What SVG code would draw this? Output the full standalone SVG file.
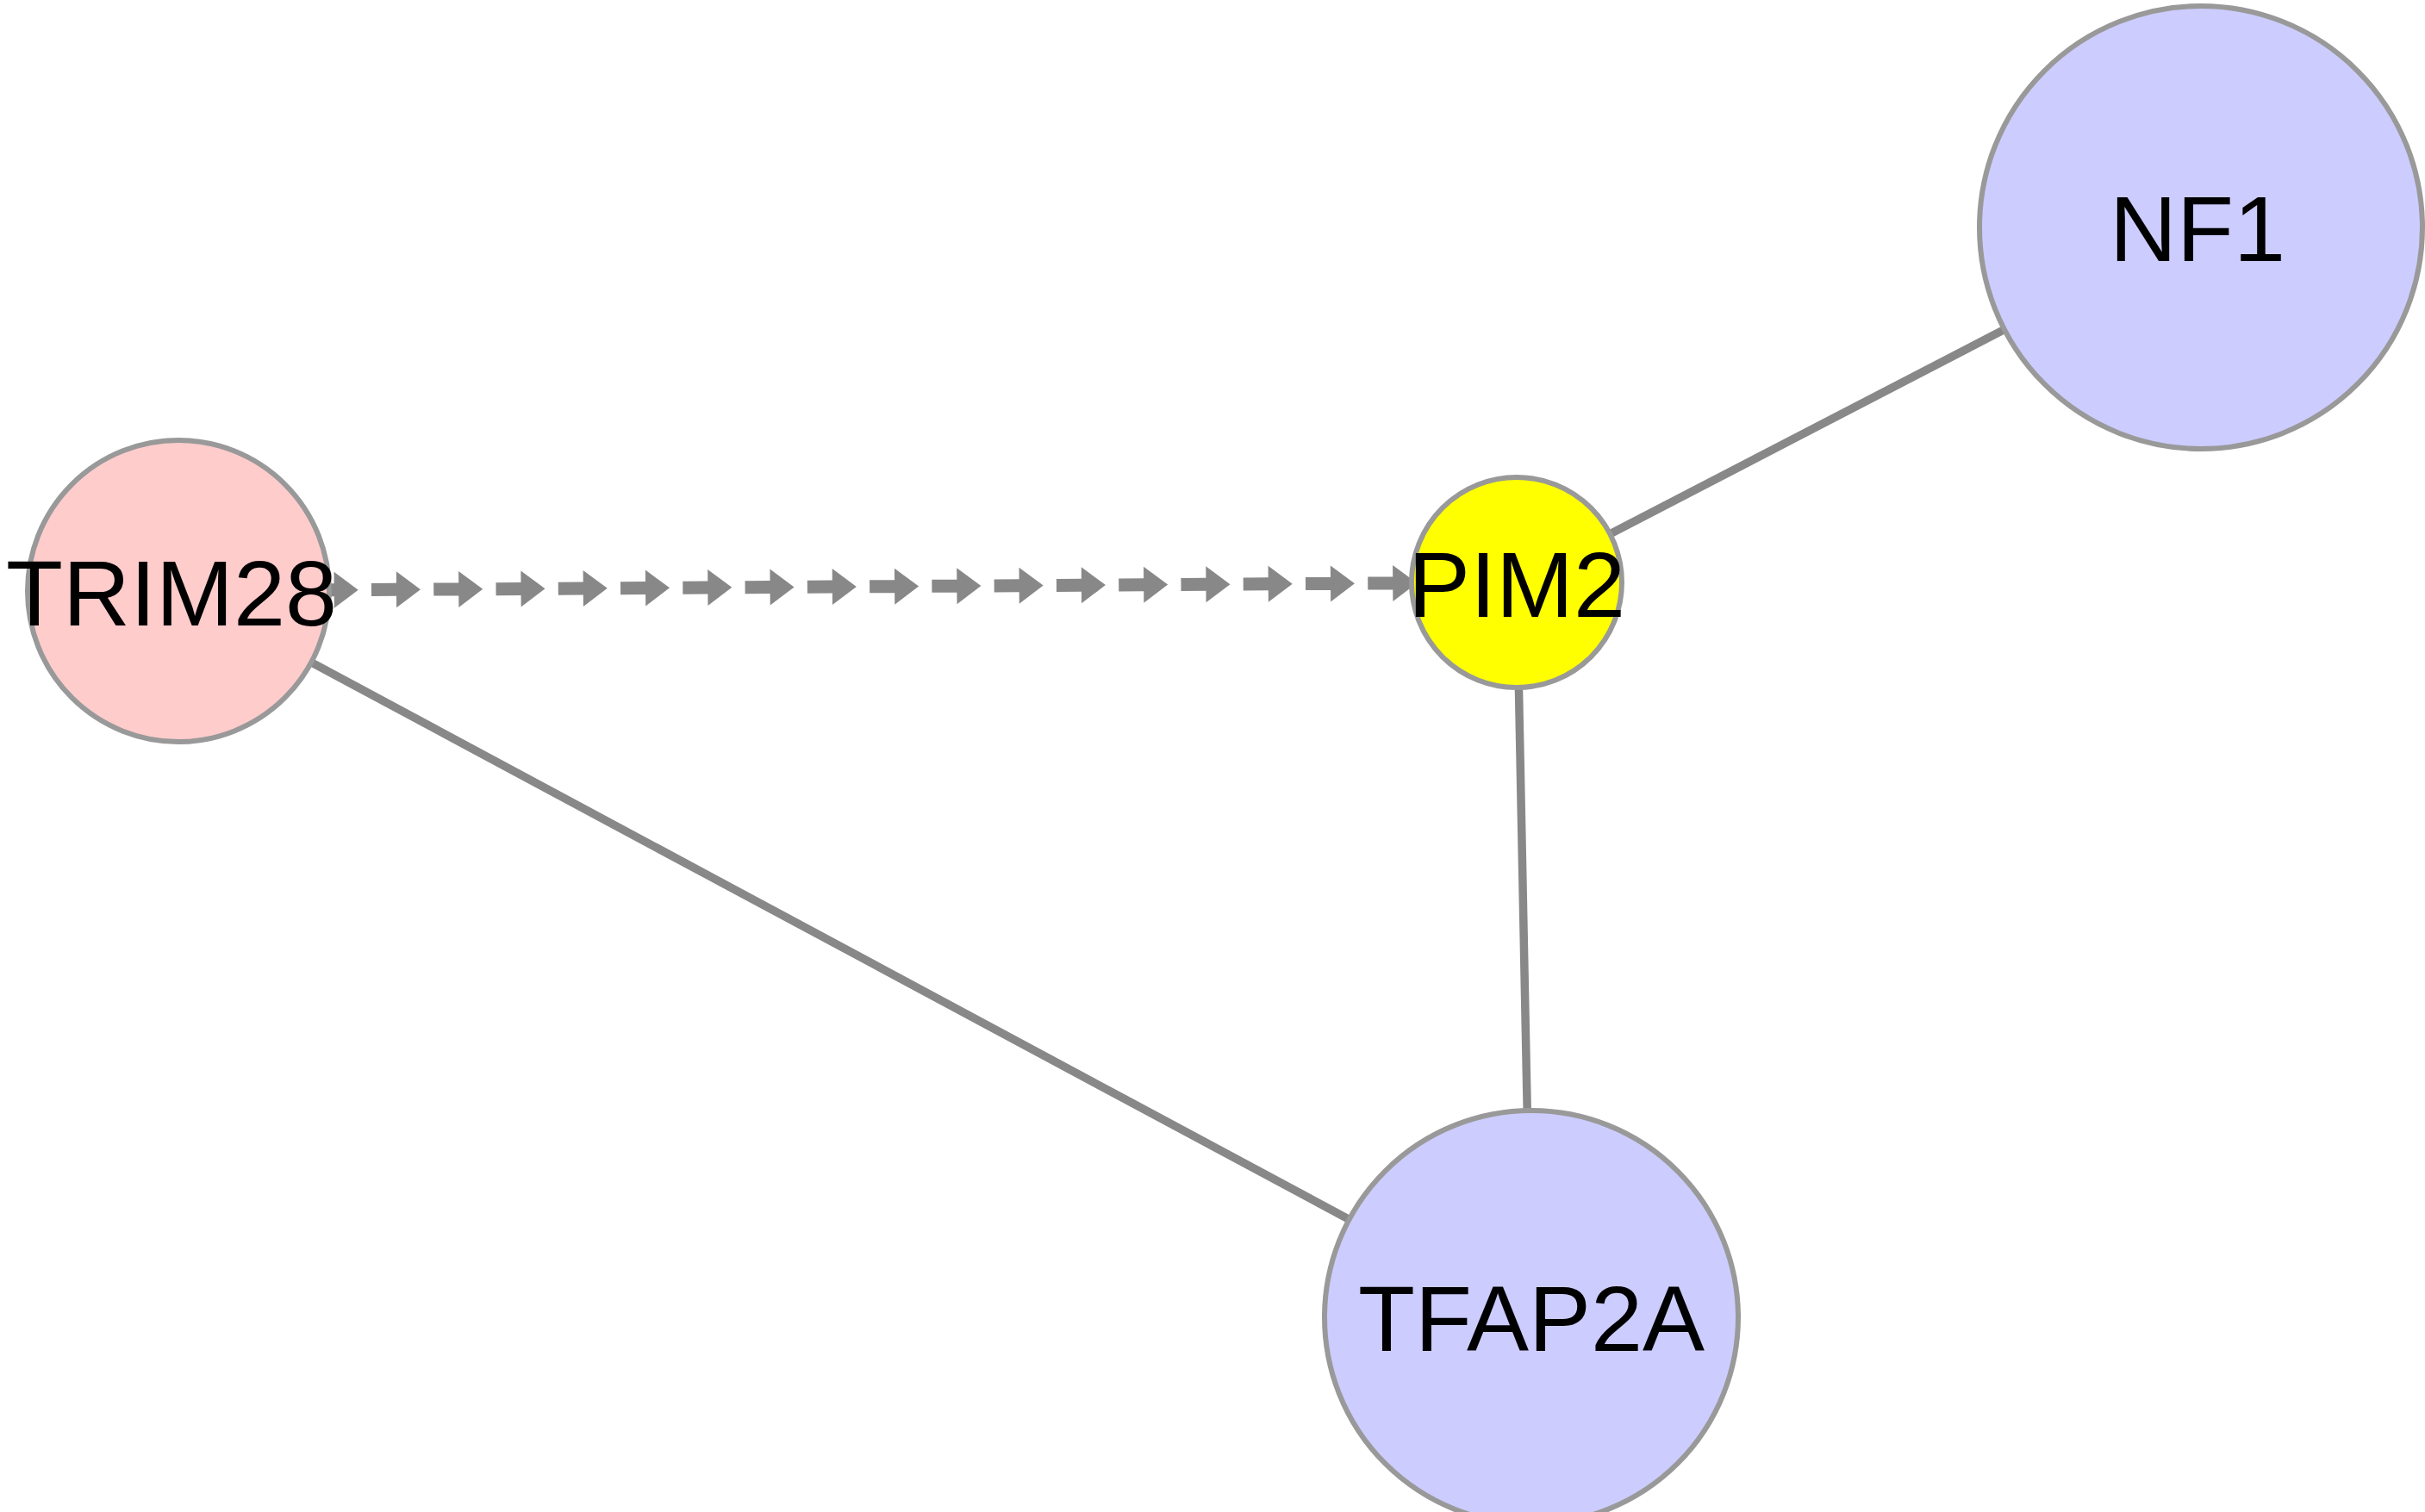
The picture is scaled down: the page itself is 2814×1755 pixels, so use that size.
<svg xmlns="http://www.w3.org/2000/svg" xmlns:xlink="http://www.w3.org/1999/xlink" width="2814" height="1755" viewBox="0 0 2814 1755">
  <style>
    .edge { stroke: #888888; stroke-width: 9.5; fill: none; }
    .node { stroke: #999999; stroke-width: 6; }
    .label { font-family: "Liberation Sans", Arial, Helvetica, sans-serif; font-size: 108px; fill: #000000; text-anchor: middle; }
  </style>
  <defs>
    <path id="dart" d="M -57 -7.5 H -28 V -21 L 0 0 L -28 21 V 7.5 H -57 Z" fill="#888888"/>
  </defs>
  <rect x="0" y="0" width="2814" height="1755" fill="#ffffff"/>
  <g id="connectors">
    <line class="edge" x1="1760" y1="676" x2="2554" y2="264"/>
    <line class="edge" x1="1760" y1="676" x2="1777" y2="1529"/>
    <line class="edge" x1="207" y1="686" x2="1777" y2="1529"/>
    <g id="edge-TRIM28-PIM2" transform="translate(207,686) rotate(-0.369)">
      <use xlink:href="#dart" x="208.7" y="0"/>
      <use xlink:href="#dart" x="280.97" y="0"/>
      <use xlink:href="#dart" x="353.24" y="0"/>
      <use xlink:href="#dart" x="425.51" y="0"/>
      <use xlink:href="#dart" x="497.78" y="0"/>
      <use xlink:href="#dart" x="570.05" y="0"/>
      <use xlink:href="#dart" x="642.32" y="0"/>
      <use xlink:href="#dart" x="714.59" y="0"/>
      <use xlink:href="#dart" x="786.86" y="0"/>
      <use xlink:href="#dart" x="859.13" y="0"/>
      <use xlink:href="#dart" x="931.4" y="0"/>
      <use xlink:href="#dart" x="1003.67" y="0"/>
      <use xlink:href="#dart" x="1075.94" y="0"/>
      <use xlink:href="#dart" x="1148.21" y="0"/>
      <use xlink:href="#dart" x="1220.48" y="0"/>
      <use xlink:href="#dart" x="1292.75" y="0"/>
      <use xlink:href="#dart" x="1365.02" y="0"/>
      <use xlink:href="#dart" x="1437.29" y="0"/>
    </g>
  </g>
  <g id="node-NF1">
    <circle class="node" cx="2554" cy="264" r="257" fill="#CCCCFF"/>
    <text class="label" x="2550" y="303">NF1</text>
  </g>
  <g id="node-PIM2">
    <circle class="node" cx="1760" cy="676" r="122" fill="#FFFF00"/>
    <text class="label" x="1760" y="716">PIM2</text>
  </g>
  <g id="node-TRIM28">
    <circle class="node" cx="207" cy="686" r="175" fill="#FFCCCC"/>
    <text class="label" x="199" y="726">TRIM28</text>
  </g>
  <g id="node-TFAP2A">
    <circle class="node" cx="1777" cy="1529" r="240" fill="#CCCCFF"/>
    <text class="label" x="1777" y="1568">TFAP2A</text>
  </g>
</svg>
